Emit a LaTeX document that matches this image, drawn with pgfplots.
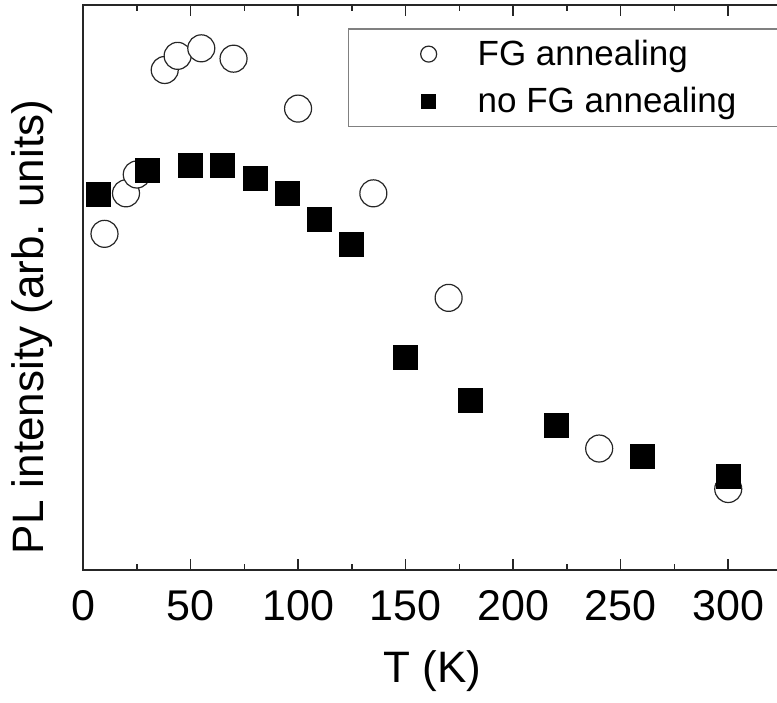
\documentclass[border=0pt]{standalone}
\usepackage{fontspec}
\setmainfont{Liberation Sans}
\usepackage{pgfplots}
\pgfplotsset{compat=1.18}

% FG annealing (open circles)
\pgfplotstableread{
T   I
10  3.57
20  4.00
25  4.20
38  5.31
44  5.46
55  5.54
70  5.43
100 4.90
135 4.00
170 2.89
240 1.29
300 0.86
}\fgdata

% no FG annealing (filled squares)
\pgfplotstableread{
T   I
7   3.99
30  4.24
50  4.30
65  4.30
80  4.16
95  4.00
110 3.72
125 3.46
150 2.26
180 1.80
220 1.54
260 1.21
300 0.99
}\nofgdata

\pgfplotsset{
  mylegend/.style={legend image code/.code={\path[draw=none] (0pt,0pt) (54pt,0pt);
        \draw[##1, only marks, mark size=#1] plot coordinates {(40pt,0pt)};}},
}

\begin{document}
\begin{tikzpicture}
\begin{axis}[
    name=ax,
    scale only axis,
    width=349.5pt, height=282.5pt,
    xmin=0, xmax=325, ymin=0, ymax=6,
    xtick={0,50,...,300},
    minor x tick num=1,
    ytick=\empty,
    minor ytick={1,2,3,4,5},
    tick align=inside,
    xtick pos=both, ytick pos=both,
    major tick length=5.5pt, minor tick length=3pt,
    axis line style={black!85, line width=1pt},
    tick style={black!85, line width=0.8pt},
    /pgf/number format/assume math mode=true,
    xticklabel style={font=\fontsize{21.5}{24}\selectfont, anchor=base, yshift=-25pt},
    xlabel={T (K)},
    ylabel={PL intensity (arb. units)},
    every axis x label/.style={at={(axis description cs:0.5,-0.2)}, anchor=base,
        font=\fontsize{22}{26}\selectfont},
    every axis y label/.style={at={(axis description cs:-0.0565,0.43)}, rotate=90, anchor=base,
        font=\fontsize{22}{26}\selectfont},
    legend cell align=left,
    legend style={at={(axis description cs:0.379,0.959)}, anchor=north west,
        draw=black!50, line width=0.75pt, fill=white,
        inner xsep=0pt, inner ysep=4.5pt, column sep=9.5pt, row sep=7.5pt,
        font=\fontsize{17.5}{20}\selectfont,
        nodes={inner sep=1pt}},
]
\addplot[only marks, mark=*, mark size=6.75pt,
    mark options={fill=white, draw=black!85, line width=0.6pt},
    mylegend=4pt]
    table[x=T, y=I] {\fgdata};
\addplot[only marks, mark=square*, mark size=6pt,
    mark options={fill=black, draw=black},
    mylegend=3.5pt]
    table[x=T, y=I] {\nofgdata};
\legend{FG annealing, \makebox[150pt][l]{no FG annealing}}
\end{axis}
\pgfresetboundingbox
\path ([xshift=-41.5pt,yshift=-66pt]ax.south west) rectangle ([xshift=347pt,yshift=285pt]ax.south west);
\end{tikzpicture}
\end{document}
